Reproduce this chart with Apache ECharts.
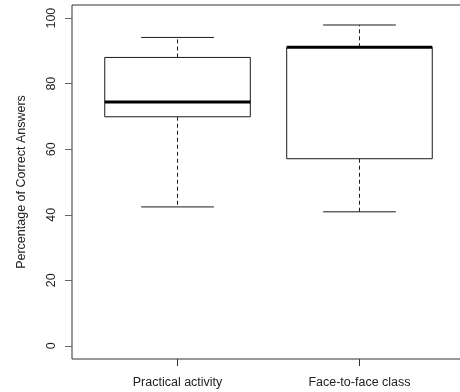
<!DOCTYPE html>
<html>
<head>
<meta charset="utf-8">
<script src="https://cdn.jsdelivr.net/npm/echarts@6/dist/echarts.min.js"></script>
<style>html,body{margin:0;padding:0;background:#fff;}#c{width:460px;height:392px;}</style>
</head>
<body>
<div id="c"></div>
<script>
var categories = ['Practical activity', 'Face-to-face class'];
var lowWhisker = [42.4, 40.9];
var q1 = [69.9, 57.1];
var median = [74.4, 91.1];
var q3 = [88.0, 91.1];
var highWhisker = [94.1, 97.9];
var yTicks = [0, 20, 40, 60, 80, 100];
var yTitle = 'Percentage of Correct Answers';

var data = categories.map(function (c, i) {
  return [i + 1, lowWhisker[i], q1[i], median[i], q3[i], highWhisker[i]];
});
var lineColor = '#1a1a1a';
var textColor = '#222';

var chart = echarts.init(document.getElementById('c'), null, {renderer: 'canvas'});
chart.setOption({
  animation: false,
  grid: {left: 72, top: 5, width: 393, height: 354, outerBoundsMode: 'none', containLabel: false,
    show: true, borderColor: '#333', borderWidth: 1, backgroundColor: 'transparent'},
  xAxis: {
    type: 'value', min: 0.42, max: 2.58,
    axisLine: {show: false, onZero: false},
    splitLine: {show: false},
    axisTick: {show: true, customValues: [1, 2], length: 7, lineStyle: {color: '#333'}},
    axisLabel: {customValues: [1, 2], margin: 17, fontFamily: 'Liberation Sans', fontSize: 12.5, color: textColor,
      formatter: function (v) { return categories[Math.round(v) - 1] || ''; }}
  },
  yAxis: {
    type: 'value', min: -4, max: 104,
    axisLine: {show: false, onZero: false},
    splitLine: {show: false},
    axisTick: {show: true, customValues: yTicks, length: 7, lineStyle: {color: '#666'}},
    axisLabel: {customValues: yTicks, rotate: 90, margin: 14, fontFamily: 'Liberation Sans', fontSize: 12.5, color: textColor},
    name: yTitle, nameLocation: 'middle', nameGap: 44, nameRotate: 90,
    nameTextStyle: {fontFamily: 'Liberation Sans', fontSize: 12.5, color: textColor}
  },
  series: [{
    type: 'custom',
    data: data,
    encode: {x: 0, y: [1, 2, 3, 4, 5]},
    renderItem: function (params, api) {
      var x = api.value(0);
      var pLow = api.coord([x, api.value(1)]);
      var pQ1 = api.coord([x, api.value(2)]);
      var pMed = api.coord([x, api.value(3)]);
      var pQ3 = api.coord([x, api.value(4)]);
      var pHigh = api.coord([x, api.value(5)]);
      var hw = api.size([0.4, 0])[0];
      var cw = api.size([0.2, 0])[0];
      var cx = pMed[0];
      var st = {stroke: lineColor, lineWidth: 1, fill: null};
      var dash = {stroke: lineColor, lineWidth: 1, lineDash: [4, 3]};
      return {
        type: 'group',
        children: [
          {type: 'line', shape: {x1: cx, y1: pQ3[1], x2: cx, y2: pHigh[1]}, style: dash},
          {type: 'line', shape: {x1: cx, y1: pQ1[1], x2: cx, y2: pLow[1]}, style: dash},
          {type: 'line', shape: {x1: cx - cw, y1: pHigh[1], x2: cx + cw, y2: pHigh[1]}, style: st},
          {type: 'line', shape: {x1: cx - cw, y1: pLow[1], x2: cx + cw, y2: pLow[1]}, style: st},
          {type: 'rect', shape: {x: cx - hw, y: pQ3[1], width: 2 * hw, height: pQ1[1] - pQ3[1]}, style: {stroke: lineColor, lineWidth: 1, fill: '#fff'}},
          {type: 'line', shape: {x1: cx - hw, y1: pMed[1], x2: cx + hw, y2: pMed[1]}, style: {stroke: '#000', lineWidth: 3}}
        ]
      };
    }
  }]
});
</script>
</body>
</html>
